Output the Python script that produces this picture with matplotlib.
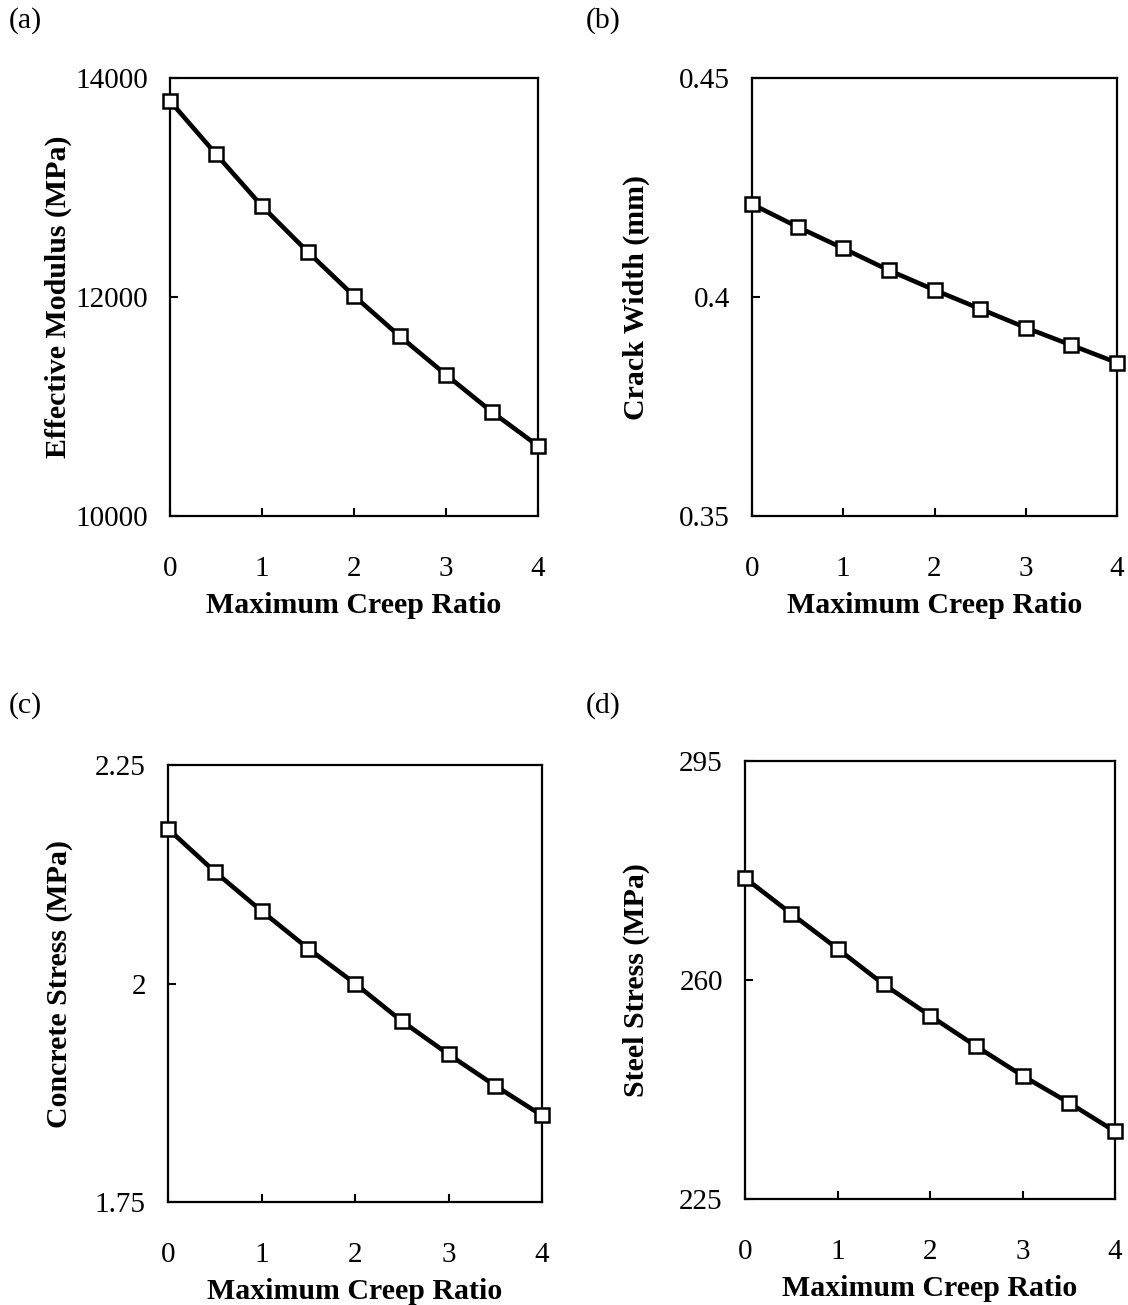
import matplotlib
matplotlib.use("Agg")
import matplotlib.pyplot as plt

creep_ratio = [0, 0.5, 1, 1.5, 2, 2.5, 3, 3.5, 4]
effective_modulus = [13790, 13305, 12830, 12410, 12010, 11640, 11290, 10950, 10640]
crack_width = [0.4212, 0.4160, 0.4111, 0.4061, 0.4016, 0.3973, 0.3930, 0.3890, 0.3850]
concrete_stress = [2.177, 2.128, 2.083, 2.040, 2.000, 1.957, 1.919, 1.883, 1.849]
steel_stress = [276.3, 270.6, 265.0, 259.3, 254.3, 249.4, 244.7, 240.4, 235.8]

panel_letters = ["(a)", "(b)", "(c)", "(d)"]
y_labels = ["Effective Modulus (MPa)", "Crack Width (mm)", "Concrete Stress (MPa)", "Steel Stress (MPa)"]
x_label = "Maximum Creep Ratio"
y_ticks = [[10000, 12000, 14000], [0.35, 0.4, 0.45], [1.75, 2.0, 2.25], [225, 260, 295]]
y_ticklabels = [["10000", "12000", "14000"], ["0.35", "0.4", "0.45"], ["1.75", "2", "2.25"], ["225", "260", "295"]]
x_ticks = [0, 1, 2, 3, 4]
x_ticklabels = ["0", "1", "2", "3", "4"]

W, H = 1128, 1305
fig = plt.figure(figsize=(W / 100, H / 100), dpi=100)
plt.rcParams['font.family'] = ['Liberation Serif', 'DejaVu Serif']

# axes boxes in pixels: left, right, top, bottom
boxes = [(170, 538, 78, 516), (752, 1117, 78, 516), (168, 542, 765, 1202), (745, 1115, 761, 1199)]
letter_pos = [(9, 7), (586, 7), (9, 692), (586, 692)]
ylabel_x = [58, 636, 60, 636]
series = [effective_modulus, crack_width, concrete_stress, steel_stress]

for i in range(4):
    l, r, t, b = boxes[i]
    ax = fig.add_axes([l / W, 1 - b / H, (r - l) / W, (b - t) / H])
    ax.plot(creep_ratio, series[i], color='black', lw=3.3, marker='s', ms=9.5,
            mfc='white', mec='black', mew=1.8, clip_on=False, zorder=5)
    ax.set_xlim(0, 4)
    ax.set_ylim(y_ticks[i][0], y_ticks[i][-1])
    ax.set_xticks(x_ticks)
    ax.set_xticklabels(x_ticklabels)
    ax.set_yticks(y_ticks[i])
    ax.set_yticklabels(y_ticklabels[i])
    ax.tick_params(axis='x', direction='in', length=6, width=1.5, pad=29, labelsize=21)
    ax.tick_params(axis='y', direction='in', length=6, width=1.5, pad=16, labelsize=21)
    for s in ax.spines.values():
        s.set_linewidth(1.6)
    ax.set_xlabel(x_label, fontsize=21.5, fontweight='bold', labelpad=7)
    ax.set_ylabel(y_labels[i], fontsize=21.5, fontweight='bold')
    ax.yaxis.set_label_coords((ylabel_x[i] - l) / (r - l), 0.5)
    ax.yaxis.label.set_va('center')
    lx, ly = letter_pos[i]
    fig.text(lx / W, 1 - ly / H, panel_letters[i], fontsize=21.5, ha='left', va='top')

fig.savefig("out.png", dpi=100, facecolor='white')
